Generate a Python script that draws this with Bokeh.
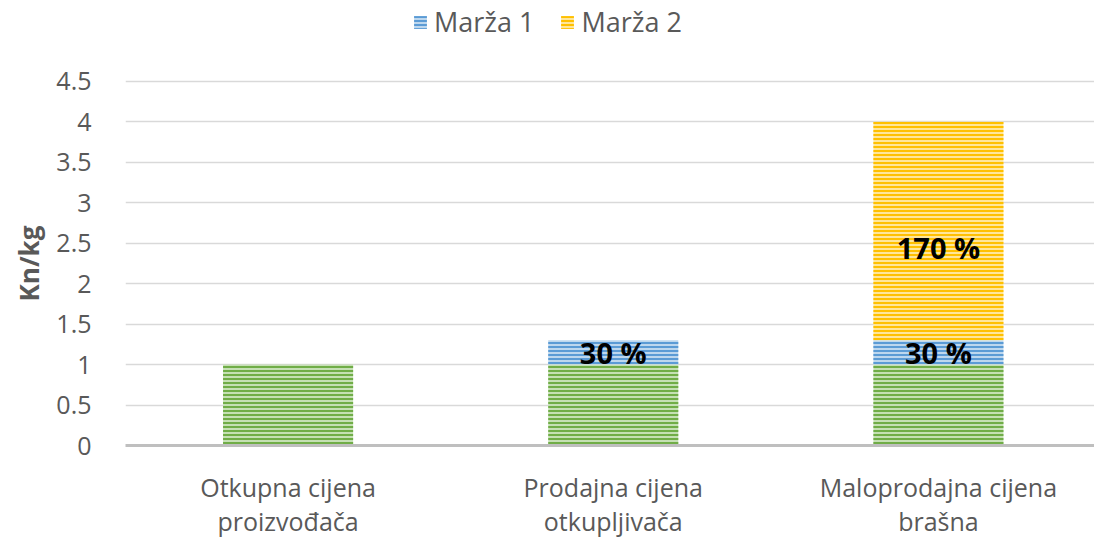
from bokeh.plotting import figure
from bokeh.models import Range1d, Legend, LegendItem, FixedTicker, ColumnDataSource
from bokeh.core.properties import value
from bokeh.embed import file_html
from bokeh.resources import INLINE

categories = ["Otkupna cijena\nproizvođača", "Prodajna cijena\notkupljivača", "Maloprodajna cijena\nbrašna"]
cijena = [1.0, 1.0, 1.0]
marza1 = [0.0, 0.3, 0.3]
marza2 = [0.0, 0.0, 2.7]
marza1_labels = ["", "30 %", "30 %"]
marza2_labels = ["", "", "170 %"]
y_ticks = [0, 0.5, 1, 1.5, 2, 2.5, 3, 3.5, 4, 4.5]
y_title = "Kn/kg"

FONT = "Open Sans"
TXT = "#595959"

xs = [i + 0.5 for i in range(len(categories))]
b1 = cijena
t1 = [c + m for c, m in zip(cijena, marza1)]
t2 = [a + m for a, m in zip(t1, marza2)]

# the frame extends to the top of the canvas so the legend above the grid stays visible
p = figure(width=1094, height=540, output_backend="svg", toolbar_location=None,
           x_range=Range1d(0, 2.98), y_range=Range1d(0, 5.5),
           min_border_left=125, min_border_right=0, min_border_top=0, min_border_bottom=94)
p.outline_line_color = None

green = p.vbar(x=xs, bottom=0, top=cijena, width=0.4, fill_color="#C5E0B4", line_color=None,
               hatch_pattern="horizontal_line", hatch_color="#70AD47", hatch_scale=4, hatch_weight=2)
src1 = ColumnDataSource(dict(x=[x for x, m in zip(xs, marza1) if m > 0],
                             b=[b for b, m in zip(b1, marza1) if m > 0],
                             t=[t for t, m in zip(t1, marza1) if m > 0]))
blue = p.vbar(x="x", bottom="b", top="t", source=src1, width=0.4, fill_color="#BDD7EE", line_color=None,
              hatch_pattern="horizontal_line", hatch_color="#5B9BD5", hatch_scale=4, hatch_weight=2)
src2 = ColumnDataSource(dict(x=[x for x, m in zip(xs, marza2) if m > 0],
                             b=[b for b, m in zip(t1, marza2) if m > 0],
                             t=[t for t, m in zip(t2, marza2) if m > 0]))
gold = p.vbar(x="x", bottom="b", top="t", source=src2, width=0.4, fill_color="#FFE699", line_color=None,
              hatch_pattern="horizontal_line", hatch_color="#FFC000", hatch_scale=4, hatch_weight=2)

# data labels
l1 = ColumnDataSource(dict(x=xs, y=[(a + b) / 2 for a, b in zip(b1, t1)], t=marza1_labels))
p.text(x="x", y="y", text="t", source=l1, text_align="center", text_baseline="middle",
       text_font=value(FONT), text_font_style="bold", text_font_size="29px", text_color="black")
l2 = ColumnDataSource(dict(x=xs, y=[(a + b) / 2 for a, b in zip(t1, t2)], t=marza2_labels))
p.text(x="x", y="y", text="t", source=l2, text_align="center", text_baseline="middle", y_offset=16,
       text_font=value(FONT), text_font_style="bold", text_font_size="29px", text_color="black")

# axes
p.xaxis.ticker = FixedTicker(ticks=xs)
p.xaxis.major_label_overrides = {x: c for x, c in zip(xs, categories)}
p.xaxis.major_tick_line_color = None
p.xaxis.minor_tick_line_color = None
p.xaxis.axis_line_color = "#BFBFBF"
p.xaxis.axis_line_width = 3
p.xaxis.major_label_standoff = 18
p.xaxis.major_label_text_font = FONT
p.xaxis.major_label_text_font_size = "25px"
p.xaxis.major_label_text_line_height = 1.0
p.xaxis.major_label_text_color = TXT

p.yaxis.ticker = FixedTicker(ticks=y_ticks)
p.yaxis.major_label_overrides = {t: ("%g" % t) for t in y_ticks}
p.yaxis.axis_line_color = None
p.yaxis.major_tick_line_color = None
p.yaxis.minor_tick_line_color = None
p.yaxis.major_label_standoff = 28
p.yaxis.major_label_text_font = FONT
p.yaxis.major_label_text_font_size = "25px"
p.yaxis.major_label_text_color = TXT
# non-breaking spaces push the rotated title down to the middle of the gridded area
p.yaxis.axis_label = y_title + "\u00a0" * 12
p.yaxis.axis_label_text_font = FONT
p.yaxis.axis_label_text_font_style = "bold"
p.yaxis.axis_label_text_font_size = "26px"
p.yaxis.axis_label_text_color = TXT
p.yaxis.axis_label_standoff = 6

p.xgrid.grid_line_color = None
p.ygrid.grid_line_color = "#D9D9D9"
p.ygrid.grid_line_width = 1.5

legend = Legend(items=[LegendItem(label="Marža 1", renderers=[blue]),
                       LegendItem(label="Marža 2", renderers=[gold])],
                location=(287, 405), orientation="horizontal",
                border_line_color=None, background_fill_alpha=0,
                padding=0, margin=0, spacing=25, glyph_width=16, glyph_height=16,
                label_text_font=FONT, label_text_font_size="27px", label_text_color=TXT,
                label_standoff=6)
p.add_layout(legend, "center")

open("out.html", "w").write(file_html(p, INLINE))
